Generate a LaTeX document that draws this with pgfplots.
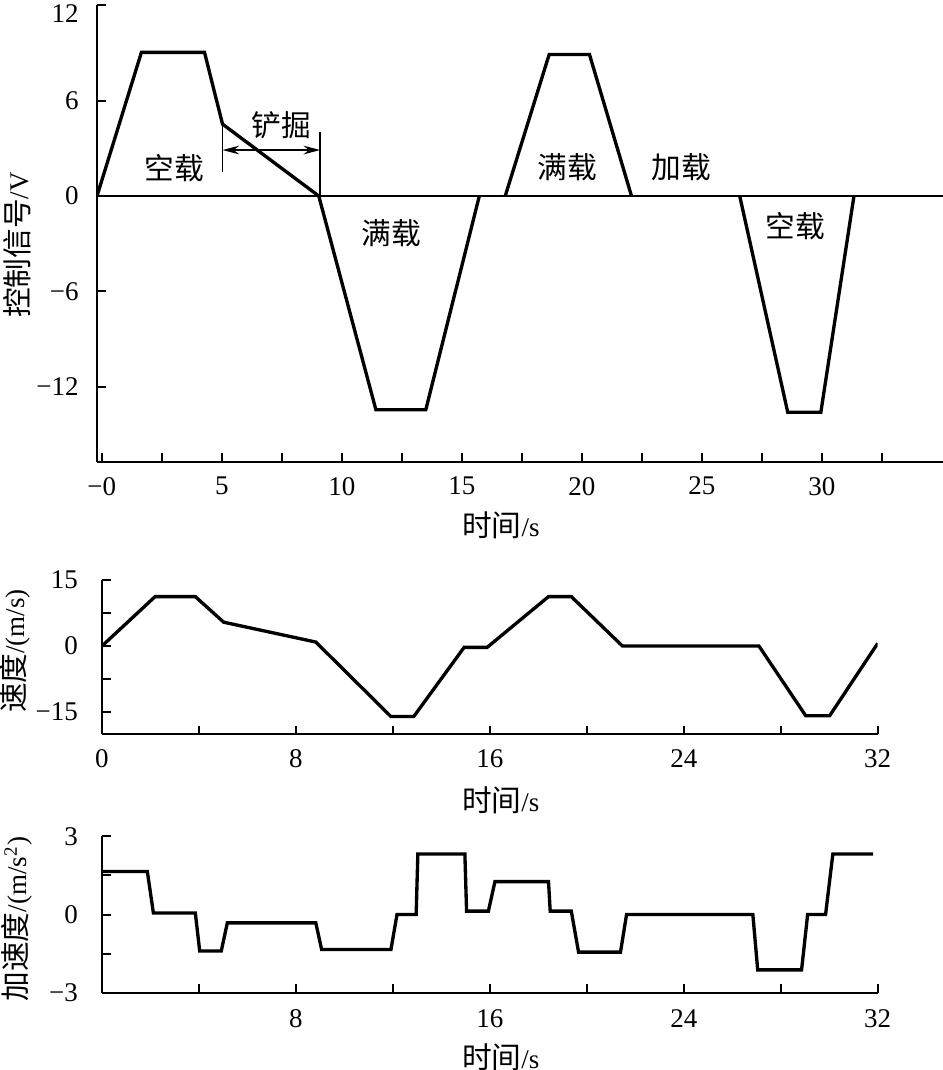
\documentclass[border=0pt]{standalone}
\usepackage{fontspec}
\setmainfont{Liberation Serif}
\newfontfamily\cjk{Noto Sans CJK SC}[Scale=1.1]
\usepackage{pgfplots}
\pgfplotsset{compat=1.18}
\usetikzlibrary{arrows.meta}

\pgfplotstableread{
t v
-0.2 0
1.65 9.03
4.28 9.03
5.03 4.52
9.04 0
11.42 -13.44
13.5 -13.44
15.73 0
}\sigA
\pgfplotstableread{
t v
16.81 0
18.64 8.9
20.32 8.9
22.07 0
}\sigB
\pgfplotstableread{
t v
26.58 0
28.58 -13.6
29.96 -13.6
31.34 0
}\sigC
\pgfplotstableread{
t v
0 0
2.19 11.2
3.85 11.2
5.02 5.4
8.82 0.9
11.92 -16.0
12.86 -16.0
14.94 -0.3
15.89 -0.3
18.42 11.2
19.36 11.2
21.47 0
27.1 0
29.03 -15.8
30.02 -15.8
32 0.6
}\vel
\pgfplotstableread{
t a
0 1.65
1.87 1.65
2.12 0.06
3.85 0.06
4.03 -1.40
4.92 -1.40
5.17 -0.32
8.82 -0.32
9.06 -1.34
11.92 -1.34
12.17 0
12.96 0
13.03 2.32
14.97 2.32
15.04 0.13
15.94 0.13
16.21 1.26
18.42 1.26
18.49 0.13
19.36 0.13
19.66 -1.44
21.39 -1.44
21.64 0
26.85 0
27.05 -2.12
28.86 -2.12
29.11 0
29.85 0
30.15 2.32
31.81 2.32
}\acc

\pgfplotsset{
  myaxis/.style={
    axis lines=left,
    axis line style={-, line width=0.7pt},
    every outer x axis line/.append style={-},
    every outer y axis line/.append style={-},
    tick align=inside,
    major tick length=2.6pt,
    minor tick length=2.6pt,
    tick style={black, line width=0.6pt},
    every tick label/.append style={font=\fontsize{8.1}{9}\selectfont},
    label style={font=\fontsize{8.1}{9}\selectfont},
    clip=true,
  },
  curve/.style={black, line width=1pt, no markers},
}

\begin{document}
\begin{tikzpicture}
\useasboundingbox (0,0) rectangle (282.9pt,-321pt);

% ---------- control signal ----------
\begin{axis}[myaxis, at={(29.1pt,-138.6pt)}, anchor=south west,
  x=7.2pt, y=4.77pt,
  xmin=-0.2, xmax=35.05, ymin=-16.73, ymax=12,
  xtick={0,5,...,30}, xticklabels={−0,5,10,15,20,25,30},
  minor xtick={2.5,7.5,...,32.5},
  ytick={-12,-6,0,6}, yticklabels={−12,−6,0,6},
  extra y ticks={12}, extra y tick labels={12},
  extra y tick style={yticklabel style={yshift=-2.6pt}},
  xticklabel style={yshift=-1pt},
  yticklabel style={xshift=-2pt},
  xlabel={{\cjk 时间}/s}, ylabel={{\cjk 控制信号}/V},
  xlabel style={at={(axis description cs:0.4775,-0.138)}, anchor=center},
  ylabel style={at={(axis description cs:-0.094,0.475)}, anchor=center},
]
\addplot[black, line width=0.45pt] coordinates {(-0.2,0) (35.05,0)};
\addplot[curve] table[x=t,y=v] {\sigA};
\addplot[curve] table[x=t,y=v] {\sigB};
\addplot[curve] table[x=t,y=v] {\sigC};
\draw[line width=0.45pt] (axis cs:5.03,4.47) -- (axis cs:5.03,1.51);
\draw[line width=0.45pt] (axis cs:9.1,4.03) -- (axis cs:9.1,0);
\draw[line width=0.5pt, {Stealth[length=5pt,width=2.6pt]}-{Stealth[length=5pt,width=2.6pt]}] (axis cs:5.03,2.89) -- (axis cs:9.1,2.89);
\node[font=\cjk\fontsize{8.1}{9}\selectfont] at (axis cs:3.01,1.76) {空载};
\node[font=\cjk\fontsize{8.1}{9}\selectfont] at (axis cs:7.47,4.47) {铲掘};
\node[font=\cjk\fontsize{8.1}{9}\selectfont] at (axis cs:12.05,-2.33) {满载};
\node[font=\cjk\fontsize{8.1}{9}\selectfont] at (axis cs:19.39,1.82) {满载};
\node[font=\cjk\fontsize{8.1}{9}\selectfont] at (axis cs:24.14,1.82) {加载};
\node[font=\cjk\fontsize{8.1}{9}\selectfont] at (axis cs:28.89,-1.89) {空载};
\end{axis}

% ---------- velocity ----------
\begin{axis}[myaxis, at={(30.6pt,-220.26pt)}, anchor=south west,
  x=7.272pt, y=1.323pt,
  xmin=0, xmax=32, ymin=-20, ymax=15,
  xtick={0,8,16,24,32}, xticklabels={0,8,16,24,32},
  minor xtick={4,12,20,28},
  ytick={-15,0,15}, yticklabels={−15,0,15},
  minor ytick={-7.5,7.5},
  xticklabel style={yshift=-1pt},
  yticklabel style={xshift=-3.7pt},
  xlabel={{\cjk 时间}/s}, ylabel={{\cjk 速度}/(m/s)},
  xlabel style={at={(axis description cs:0.514,-0.426)}, anchor=center},
  ylabel style={at={(axis description cs:-0.112,0.539)}, anchor=center},
]
\addplot[curve] table[x=t,y=v] {\vel};
\end{axis}

% ---------- acceleration ----------
\begin{axis}[myaxis, at={(30.6pt,-297.84pt)}, anchor=south west,
  x=7.272pt, y=7.83pt,
  xmin=0, xmax=32, ymin=-3, ymax=3,
  xtick={8,16,24,32}, xticklabels={8,16,24,32},
  minor xtick={4,12,20,28},
  ytick={-3,0,3}, yticklabels={−3,0,3},
  minor ytick={-1.5,1.5},
  xticklabel style={yshift=-1.5pt},
  yticklabel style={xshift=-3.7pt},
  xlabel={{\cjk 时间}/s}, ylabel={{\cjk 加速度}/(m/s\textsuperscript{2})},
  xlabel style={at={(axis description cs:0.514,-0.41)}, anchor=center},
  ylabel style={at={(axis description cs:-0.110,0.47)}, anchor=center},
]
\addplot[curve] table[x=t,y=a] {\acc};
\end{axis}
\end{tikzpicture}
\end{document}
